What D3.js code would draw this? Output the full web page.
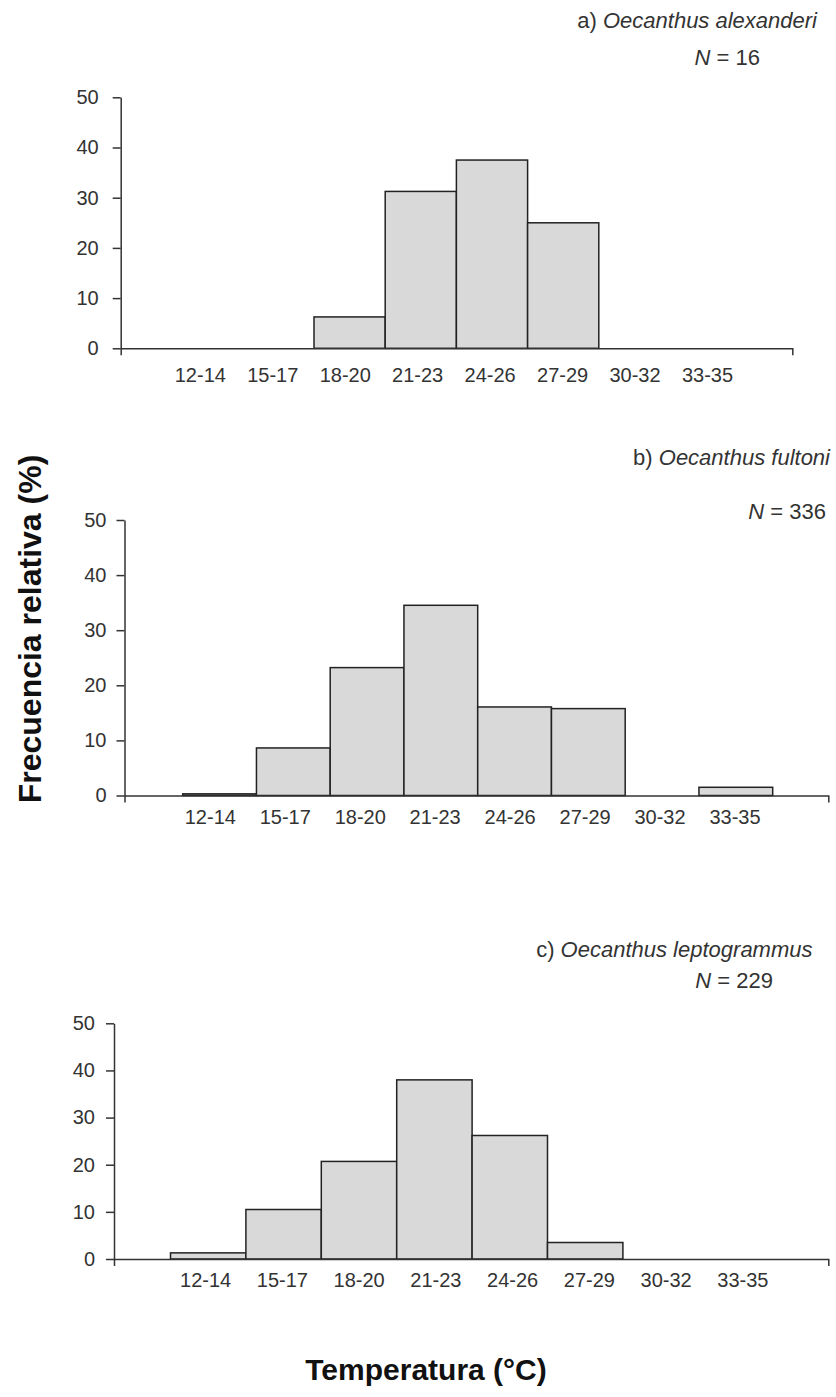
<!DOCTYPE html>
<html>
<head>
<meta charset="utf-8">
<script src="https://cdn.jsdelivr.net/npm/d3@7"></script>
<style>
  html, body { margin: 0; padding: 0; background: #fff; }
  svg { display: block; }
  text { font-family: "Liberation Sans", Arial, sans-serif; }
</style>
</head>
<body>
<svg id="chart" width="836" height="1397"></svg>
<script>
// ---- data ----
const categories = ["12-14", "15-17", "18-20", "21-23", "24-26", "27-29", "30-32", "33-35"];
const valuesA = [0, 0, 6.25, 31.25, 37.5, 25, 0, 0];
const valuesB = [0.30, 8.63, 23.21, 34.52, 16.07, 15.77, 0, 1.49];
const valuesC = [1.3, 10.5, 20.7, 38.0, 26.2, 3.5, 0, 0];
const yTicks = [0, 10, 20, 30, 40, 50];
const panelLetters = ["a)", "b)", "c)"];
const speciesNames = ["Oecanthus alexanderi", "Oecanthus fultoni", "Oecanthus leptogrammus"];
const sampleSizes = [16, 336, 229];
const yTitle = "Frecuencia relativa (%)";
const xTitle = "Temperatura (°C)";

// ---- layout (positions only) ----
const panels = [
  { values: valuesA, axisX: 120.7, axisEnd: 792.3, y0: 348.3, y50: 97.3,
    bins: [171.6, 741.2], labels: [199.8, 707.0], labelPad: 19.2, yPad: 14,
    title: [817, 28], n: [760, 65] },
  { values: valuesB, axisX: 124.5, axisEnd: 828.3, y0: 795.5, y50: 520,
    bins: [182.7, 772.7], labels: [209.8, 734.5], labelPad: 13.8, yPad: 10,
    title: [830, 465], n: [826, 519] },
  { values: valuesC, axisX: 114, axisEnd: 828.3, y0: 1259, y50: 1023.3,
    bins: [170.5, 773.7], labels: [205.1, 742.4], labelPad: 14, yPad: 11,
    title: [812.5, 957], n: [773, 988] }
];

const svg = d3.select("#chart");
const ink = "#333";

panels.forEach((p, i) => {
  const g = svg.append("g");
  const y = d3.scaleLinear().domain([0, 50]).range([p.y0, p.y50]);
  const xBand = d3.scaleBand().domain(categories).range(p.bins).paddingInner(0).paddingOuter(0);
  const xLab = d3.scalePoint().domain(categories).range(p.labels);
  const xLine = d3.scaleLinear().domain([0, 1]).range([p.axisX, p.axisEnd]);

  // bars
  g.selectAll("rect.bar")
    .data(categories.map((c, k) => ({ c, v: p.values[k] })).filter(d => d.v > 0))
    .join("rect")
    .attr("class", "bar")
    .attr("x", d => xBand(d.c))
    .attr("width", xBand.bandwidth())
    .attr("y", d => y(d.v))
    .attr("height", d => y(0) - y(d.v))
    .attr("fill", "#d9d9d9")
    .attr("stroke", "#222")
    .attr("stroke-width", 1.5);

  // x axis line with end ticks
  const xAxisG = g.append("g")
    .attr("transform", `translate(0,${p.y0})`)
    .call(d3.axisBottom(xLine).tickValues([]).tickSizeOuter(7));
  xAxisG.select(".domain").attr("stroke", ink).attr("stroke-width", 1.5);

  // x category labels
  const labG = g.append("g")
    .attr("transform", `translate(0,${p.y0})`)
    .call(d3.axisBottom(xLab).tickSize(0).tickPadding(p.labelPad));
  labG.select(".domain").remove();
  labG.selectAll("text")
    .attr("font-family", "'Liberation Sans', Arial, sans-serif")
    .attr("font-size", 20).attr("fill", ink);

  // y axis
  const yAxisG = g.append("g")
    .attr("transform", `translate(${p.axisX},0)`)
    .call(d3.axisLeft(y).tickValues(yTicks).tickSize(8).tickSizeOuter(0).tickPadding(p.yPad));
  yAxisG.select(".domain").attr("stroke", ink).attr("stroke-width", 1.5);
  yAxisG.selectAll(".tick line").attr("stroke", ink).attr("stroke-width", 1.5);
  yAxisG.selectAll("text")
    .attr("font-family", "'Liberation Sans', Arial, sans-serif")
    .attr("font-size", 20).attr("fill", ink);

  // titles
  const t = g.append("text")
    .attr("x", p.title[0]).attr("y", p.title[1])
    .attr("text-anchor", "end").attr("font-size", 22).attr("fill", ink);
  t.append("tspan").text(panelLetters[i] + " ");
  t.append("tspan").attr("font-style", "italic").text(speciesNames[i]);

  const nt = g.append("text")
    .attr("x", p.n[0]).attr("y", p.n[1])
    .attr("text-anchor", "end").attr("font-size", 22).attr("fill", ink);
  nt.append("tspan").attr("font-style", "italic").text("N");
  nt.append("tspan").text(" = " + sampleSizes[i]);
});

// axis titles
svg.append("text")
  .attr("transform", "translate(41,629) rotate(-90)")
  .attr("text-anchor", "middle")
  .attr("font-size", 32).attr("font-weight", "bold").attr("fill", "#111")
  .text(yTitle);

svg.append("text")
  .attr("x", 426).attr("y", 1380)
  .attr("text-anchor", "middle")
  .attr("font-size", 30).attr("font-weight", "bold").attr("fill", "#111")
  .text(xTitle);
</script>
</body>
</html>
